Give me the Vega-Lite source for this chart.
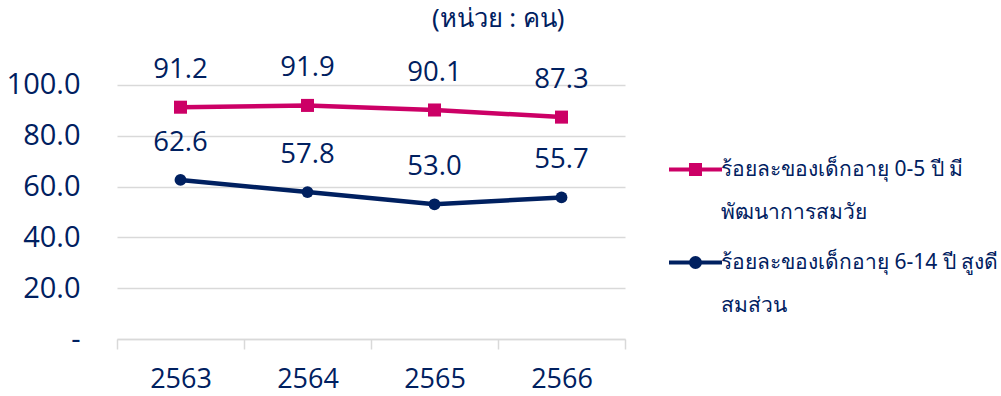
{
  "$schema": "https://vega.github.io/schema/vega-lite/v6.json",
  "width": 508,
  "height": 305,
  "autosize": "none",
  "padding": {"left": 117, "top": 34, "right": 376, "bottom": 57},
  "background": "white",
  "config": {"view": {"stroke": null}, "font": "Open Sans"},
  "title": {"text": "(หน่วย : คน)", "anchor": "start", "frame": "group", "dx": 315, "fontSize": 25.5, "font": "Noto Sans", "color": "#002060", "fontWeight": "normal", "offset": 2},
  "data": {"values": [
    {"year": "2563", "series": "ร้อยละของเด็กอายุ 0-5 ปี มีพัฒนาการสมวัย", "value": 91.2},
    {"year": "2564", "series": "ร้อยละของเด็กอายุ 0-5 ปี มีพัฒนาการสมวัย", "value": 91.9},
    {"year": "2565", "series": "ร้อยละของเด็กอายุ 0-5 ปี มีพัฒนาการสมวัย", "value": 90.1},
    {"year": "2566", "series": "ร้อยละของเด็กอายุ 0-5 ปี มีพัฒนาการสมวัย", "value": 87.3},
    {"year": "2563", "series": "ร้อยละของเด็กอายุ 6-14 ปี สูงดีสมส่วน", "value": 62.6},
    {"year": "2564", "series": "ร้อยละของเด็กอายุ 6-14 ปี สูงดีสมส่วน", "value": 57.8},
    {"year": "2565", "series": "ร้อยละของเด็กอายุ 6-14 ปี สูงดีสมส่วน", "value": 53.0},
    {"year": "2566", "series": "ร้อยละของเด็กอายุ 6-14 ปี สูงดีสมส่วน", "value": 55.7}
  ]},
  "encoding": {
    "x": {"field": "year", "type": "ordinal", "title": null,
      "scale": {"type": "band", "paddingInner": 0, "paddingOuter": 0},
      "axis": {"labelAngle": 0, "labelFontSize": 27, "labelColor": "#002060", "labelPadding": 17, "tickBand": "extent", "tickSize": 10, "tickColor": "#d9d9d9", "tickWidth": 1.5, "domainColor": "#d9d9d9", "domainWidth": 1.5, "grid": false}},
    "y": {"field": "value", "type": "quantitative", "title": null,
      "scale": {"domain": [0, 120]},
      "axis": {"values": [0, 20, 40, 60, 80, 100], "labelExpr": "datum.value == 0 ? '-' : format(datum.value, '.1f')", "labelFontSize": 29, "labelColor": "#002060", "labelPadding": 37, "domain": false, "ticks": false, "gridColor": "#d9d9d9", "gridWidth": 1.5}},
    "color": {"field": "series", "type": "nominal",
      "scale": {"domain": ["ร้อยละของเด็กอายุ 0-5 ปี มีพัฒนาการสมวัย", "ร้อยละของเด็กอายุ 6-14 ปี สูงดีสมส่วน"], "range": ["#CC0066", "#002060"]},
      "legend": {"title": null, "orient": "none", "legendX": 550, "legendY": 107,
        "labelFont": "Noto Sans", "labelFontSize": 21, "labelColor": "#002060", "labelLimit": 400, "labelOffset": -3,
        "symbolSize": 2809, "symbolStrokeWidth": 4, "rowPadding": 11,
        "labelExpr": "indexof(datum.label, '0-5') >= 0 ? ['ร้อยละของเด็กอายุ 0-5 ปี มี', 'พัฒนาการสมวัย'] : ['ร้อยละของเด็กอายุ 6-14 ปี สูงดี', 'สมส่วน']",
        "encode": {
          "symbols": {"update": {
            "shape": {"signal": "indexof(datum.value, '0-5') >= 0 ? 'M-1,0H1M-0.17,-0.17H0.17V0.17H-0.17Z' : 'M-1,0H1M-0.17,0A0.17,0.17 0 1,0 0.17,0A0.17,0.17 0 1,0 -0.17,0Z'"},
            "fill": {"signal": "indexof(datum.value, '0-5') >= 0 ? '#CC0066' : '#002060'"},
            "stroke": {"signal": "indexof(datum.value, '0-5') >= 0 ? '#CC0066' : '#002060'"},
            "strokeWidth": {"value": 4},
            "opacity": {"value": 1}
          }},
          "labels": {"update": {"lineHeight": {"value": 43}}}
        }
      }
    }
  },
  "layer": [
    {"mark": {"type": "line", "strokeWidth": 4.5}},
    {"mark": {"type": "point", "filled": true, "opacity": 1},
      "encoding": {
        "shape": {"field": "series", "type": "nominal", "scale": {"range": ["square", "circle"]}, "legend": null},
        "size": {"field": "series", "type": "nominal", "scale": {"range": [170, 140]}, "legend": null}
      }},
    {"mark": {"type": "text", "dy": -37, "fontSize": 27.5, "color": "#002060"},
      "encoding": {"text": {"field": "value", "type": "quantitative", "format": ".1f"}, "color": {"value": "#002060"}}}
  ]
}
